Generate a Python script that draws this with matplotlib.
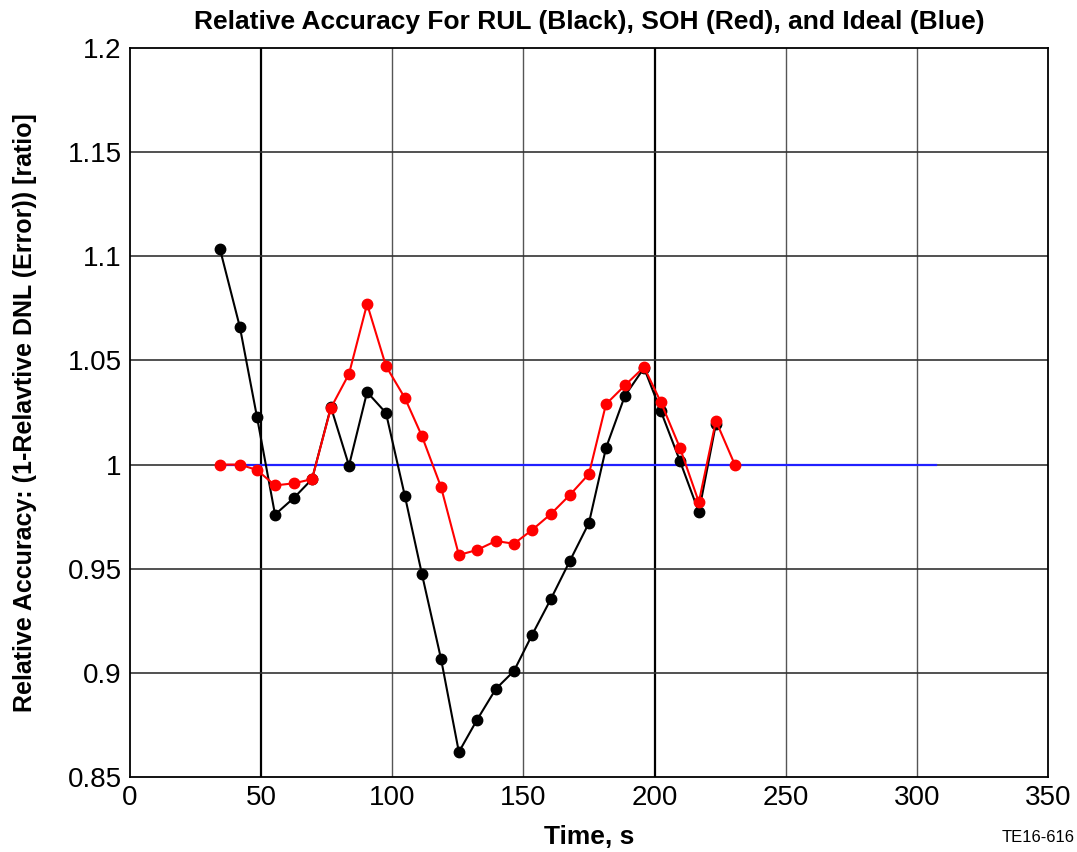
import numpy as np
import matplotlib.pyplot as plt

plt.rcParams['font.family'] = ['Liberation Sans Narrow', 'Liberation Sans', 'DejaVu Sans']

# Sample times (s)
time_s = [34.3, 41.9, 48.4, 55.3, 62.5, 69.4, 76.6, 83.5, 90.4, 97.6,
          104.8, 111.3, 118.6, 125.4, 132.3, 139.5, 146.4, 153.3, 160.5, 167.7,
          175.0, 181.5, 188.7, 196.0, 202.4, 209.7, 216.9, 223.4, 230.6]

# RUL relative accuracy (black)
rul = [1.1035, 1.066, 1.023, 0.976, 0.984, 0.993, 1.0276, 0.9995, 1.0348, 1.0248,
       0.985, 0.9475, 0.9067, 0.862, 0.8774, 0.8923, 0.9009, 0.9182, 0.9355, 0.9537,
       0.972, 1.008, 1.033, 1.0464, 1.0257, 1.0017, 0.9772, 1.0195]

# SOH relative accuracy (red)
soh = [1.0, 1.0, 0.9974, 0.990, 0.991, 0.993, 1.0272, 1.0435, 1.0771, 1.0473,
       1.032, 1.0137, 0.9892, 0.9566, 0.959, 0.9633, 0.962, 0.9686, 0.9763, 0.9854,
       0.9955, 1.029, 1.038, 1.0468, 1.030, 1.008, 0.982, 1.021, 1.0]

# Ideal line (blue)
ideal_x = [34.3, 307.3]
ideal_y = [1.0, 1.0]

fig = plt.figure(figsize=(10.77, 8.52), dpi=100)
ax = fig.add_axes([0.1207, 0.088, 0.8523, 0.8557])

ax.plot(ideal_x, ideal_y, color='#2020ff', linewidth=1.6, zorder=2)
ax.plot(time_s[:len(rul)], rul, color='black', linewidth=1.5, marker='o',
        markersize=7.5, zorder=3)
ax.plot(time_s, soh, color='#ff0000', linewidth=1.5, marker='o',
        markersize=7.5, zorder=4)

ax.set_xlim(0, 350)
ax.set_ylim(0.85, 1.2)
ax.set_xticks(np.arange(0, 351, 50))
ax.set_yticks([0.85, 0.9, 0.95, 1.0, 1.05, 1.1, 1.15, 1.2])
ax.set_yticklabels(['0.85', '0.9', '0.95', '1', '1.05', '1.1', '1.15', '1.2'])
ax.tick_params(labelsize=20, length=0, pad=6)

# Grid: dark lines at 50 and 200, lighter elsewhere
for xv in [100, 150, 250, 300]:
    ax.axvline(xv, color='#555555', linewidth=1.0, zorder=1)
for xv in [50, 200]:
    ax.axvline(xv, color='black', linewidth=1.6, zorder=1)
for yv in [0.9, 0.95, 1.0, 1.05, 1.1, 1.15]:
    ax.axhline(yv, color='#333333', linewidth=1.2, zorder=1)

for spine in ax.spines.values():
    spine.set_linewidth(1.3)

ax.set_title('Relative Accuracy For RUL (Black), SOH (Red), and Ideal (Blue)',
             fontsize=19, fontweight='bold', pad=14)
ax.set_xlabel('Time, s', fontsize=19, fontweight='bold', labelpad=10)
ax.set_ylabel('Relative Accuracy: (1-Relavtive DNL (Error)) [ratio]',
              fontsize=18, fontweight='bold', labelpad=22)

fig.text(0.998, 0.008, 'TE16-616', ha='right', va='bottom', fontsize=12)

plt.savefig('out.png', dpi=100)
